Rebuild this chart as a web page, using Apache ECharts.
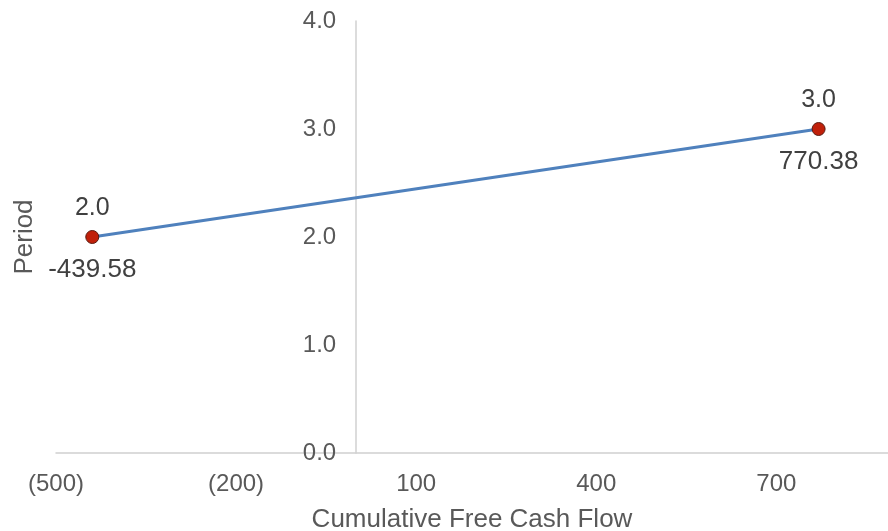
<!DOCTYPE html>
<html>
<head>
<meta charset="utf-8">
<script src="https://cdn.jsdelivr.net/npm/echarts@6/dist/echarts.min.js"></script>
<style>html,body{margin:0;padding:0;background:#fff}#c{width:888px;height:531px}</style>
</head>
<body>
<div id="c"></div>
<script>
var cashFlow = [-439.58, 770.38];
var period = [2.0, 3.0];
var xTicks = [-500, -200, 100, 400, 700];
var xName = 'Cumulative Free Cash Flow';
var yName = 'Period';

var pts = cashFlow.map(function (v, i) { return [v, period[i]]; });
var font = '"Liberation Sans", Arial, sans-serif';
var gridLeft = 56;
var chart = echarts.init(document.getElementById('c'));
function build(yOffset) {
  return {
    animation: false,
    grid: { left: gridLeft, right: 0, top: 21, bottom: 78, containLabel: false, outerBoundsMode: 'none' },
    xAxis: {
      type: 'value', min: -500, max: 886, interval: 300,
      axisLine: { show: true, onZero: false, lineStyle: { color: '#d0d0d0', width: 1.5 } },
      axisTick: { show: false }, splitLine: { show: false },
      axisLabel: {
        showMaxLabel: false, color: '#595959', fontSize: 24, fontFamily: font, margin: 19,
        formatter: function (v) { return v < 0 ? '(' + Math.abs(v) + ')' : String(v); }
      },
      name: xName, nameLocation: 'middle', nameGap: 54,
      nameTextStyle: { color: '#595959', fontSize: 26, fontFamily: font }
    },
    yAxis: {
      type: 'value', min: 0, max: 4, interval: 1, offset: yOffset,
      axisLine: { show: true, onZero: false, lineStyle: { color: '#d0d0d0', width: 1.5 } },
      axisTick: { show: false }, splitLine: { show: false },
      axisLabel: { color: '#595959', fontSize: 24, fontFamily: font, margin: 20,
        formatter: function (v) { return v.toFixed(1); } },
      name: yName, nameLocation: 'middle', nameGap: 318, nameRotate: 90,
      nameTextStyle: { color: '#595959', fontSize: 26, fontFamily: font }
    },
    series: [
      {
        type: 'line', data: pts, symbol: 'circle', symbolSize: 13,
        lineStyle: { color: '#4f81bd', width: 3 },
        itemStyle: { color: '#c0200a', borderColor: '#5a1a10', borderWidth: 1 },
        label: {
          show: true, position: 'inside', color: '#404040', fontSize: 26, fontFamily: font,
          formatter: function (p) {
            return '{t|' + p.value[1].toFixed(1) + '}\n{g| }\n{b|' + p.value[0].toFixed(2) + '}';
          },
          rich: {
            t: { fontSize: 25, lineHeight: 38, color: '#404040', fontFamily: font },
            g: { fontSize: 10, lineHeight: 27 },
            b: { fontSize: 26, lineHeight: 30, color: '#404040', fontFamily: font }
          }
        },
        z: 3
      }
    ]
  };
}
chart.setOption(build(0));
// place the vertical axis where x = 0, as the original crosses there
var zeroPx = chart.convertToPixel({ gridIndex: 0 }, [0, 0])[0];
chart.setOption(build(-(zeroPx - gridLeft)));
</script>
</body>
</html>
